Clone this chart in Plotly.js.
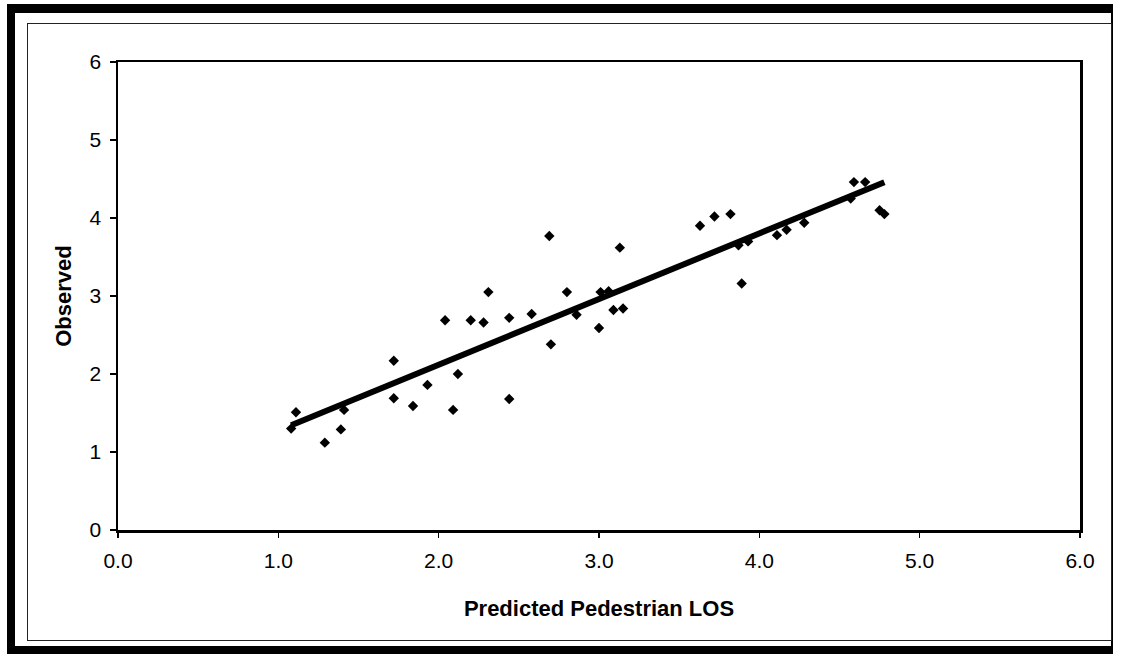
<!DOCTYPE html>
<html>
<head>
<meta charset="utf-8">
<script src="https://cdn.plot.ly/plotly-3.0.1.min.js"></script>
<style>
  html, body { margin: 0; padding: 0; background: #fff; }
  #wrap { position: relative; width: 1123px; height: 656px; overflow: hidden; background: #fff; }
  #outer { position: absolute; left: 7px; top: 4px; width: 1106px; height: 650px;
           border-left: 8px solid #000; border-top: 9px solid #000; border-bottom: 8px solid #000; border-right: 2px solid #000; box-sizing: border-box; }
  #inner { position: absolute; left: 27px; top: 23px; width: 1085px; height: 618px;
           border: 1.5px solid #222; box-sizing: border-box; }
  #chart { position: absolute; left: 0; top: 0; width: 1123px; height: 656px; }
</style>
</head>
<body>
<div id="wrap">
  <div id="outer"></div>
  <div id="inner"></div>
  <div id="chart"></div>
</div>
<script>
// Predicted Pedestrian LOS (x) vs Observed (y)
const predicted = [1.08, 1.11, 1.29, 1.39, 1.41, 1.72, 1.72, 1.84, 1.93, 2.09,
                   2.12, 2.04, 2.20, 2.28, 2.31, 2.44, 2.44, 2.58, 2.70, 2.69,
                   2.80, 2.86, 3.00, 3.01, 3.06, 3.09, 3.15, 3.13, 3.63, 3.72,
                   3.82, 3.87, 3.93, 3.89, 4.11, 4.17, 4.28, 4.59, 4.66, 4.57,
                   4.75, 4.78];
const observed  = [1.30, 1.51, 1.12, 1.29, 1.54, 2.17, 1.69, 1.59, 1.86, 1.54,
                   2.00, 2.69, 2.69, 2.66, 3.05, 2.72, 1.68, 2.77, 2.38, 3.77,
                   3.05, 2.76, 2.59, 3.05, 3.06, 2.82, 2.84, 3.62, 3.90, 4.02,
                   4.05, 3.65, 3.70, 3.16, 3.78, 3.85, 3.94, 4.46, 4.46, 4.25,
                   4.10, 4.05];
const xTickVals = [0, 1, 2, 3, 4, 5, 6];
const xTickText = ["0.0", "1.0", "2.0", "3.0", "4.0", "5.0", "6.0"];
const yTickVals = [0, 1, 2, 3, 4, 5, 6];

// Linear trendline (least squares), drawn from min to max x like Excel
const n = predicted.length;
const mx = predicted.reduce((a, b) => a + b, 0) / n;
const my = observed.reduce((a, b) => a + b, 0) / n;
let sxy = 0, sxx = 0;
for (let i = 0; i < n; i++) { sxy += (predicted[i] - mx) * (observed[i] - my); sxx += (predicted[i] - mx) ** 2; }
const slope = sxy / sxx, intercept = my - slope * mx;
const xmin = Math.min(...predicted), xmax = Math.max(...predicted);
const trendX = [xmin, xmax];
const trendY = trendX.map(v => intercept + slope * v);

const font = "Liberation Sans, Arial, sans-serif";
const data = [
  { x: predicted, y: observed, type: "scatter", mode: "markers",
    marker: { symbol: "diamond", size: 8, color: "#000" }, hoverinfo: "x+y" },
  { x: trendX, y: trendY, type: "scatter", mode: "lines",
    line: { color: "#000", width: 6 }, hoverinfo: "skip" }
];
const layout = {
  width: 1123, height: 656,
  margin: { l: 118, r: 43, t: 62, b: 126, pad: 0 },
  paper_bgcolor: "rgba(0,0,0,0)", plot_bgcolor: "rgba(0,0,0,0)",
  showlegend: false,
  font: { family: font, color: "#000", size: 21 },
  xaxis: {
    range: [0, 6], tickvals: xTickVals, ticktext: xTickText,
    showgrid: false, zeroline: false, showline: true, mirror: true,
    linecolor: "#000", linewidth: 2.5, ticks: "outside", ticklen: 5, tickwidth: 1.5, tickcolor: "#000",
    tickfont: { family: font, size: 21, color: "#000" }, ticklabelstandoff: 5,
    title: { text: "<b>Predicted Pedestrian LOS</b>", font: { family: font, size: 22, color: "#000" }, standoff: 30 }
  },
  yaxis: {
    range: [0, 6], tickvals: yTickVals,
    showgrid: false, zeroline: false, showline: true, mirror: true,
    linecolor: "#000", linewidth: 2.5, ticks: "outside", ticklen: 6, tickwidth: 1.5, tickcolor: "#000",
    tickfont: { family: font, size: 21, color: "#000" }, ticklabelstandoff: 4,
    title: { text: "<b>Observed</b>", font: { family: font, size: 22, color: "#000" }, standoff: 12 }
  }
};
Plotly.newPlot("chart", data, layout, { displayModeBar: false, staticPlot: true });
</script>
</body>
</html>
